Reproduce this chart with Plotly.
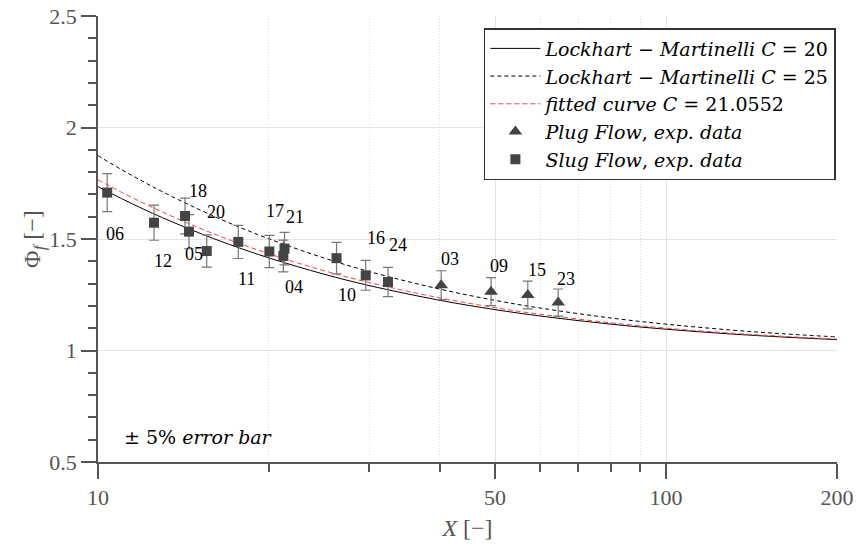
import math
import plotly.graph_objects as go

# ---- data ----
curve_X = [10, 11, 12, 13, 15, 17, 20, 25, 30, 40, 50, 60, 80, 100, 130, 160, 200]
lm_c20 = [1.7349, 1.6812, 1.6351, 1.5951, 1.5290, 1.4765, 1.4151, 1.3422, 1.2914, 1.2250,
          1.1834, 1.1548, 1.1181, 1.0955, 1.0742, 1.0607, 1.0488]
lm_c25 = [1.8735, 1.8114, 1.7579, 1.7114, 1.6344, 1.5729, 1.5008, 1.4148, 1.3544, 1.2750,
          1.2249, 1.1904, 1.1457, 1.1181, 1.0919, 1.0753, 1.0607]
fit_c = [1.7651, 1.7095, 1.6618, 1.6204, 1.5518, 1.4973, 1.4336, 1.3579, 1.3050, 1.2357,
         1.1923, 1.1624, 1.1240, 1.1003, 1.0780, 1.0638, 1.0513]

slug_X = [10.38, 12.55, 14.23, 14.46, 15.54, 17.66, 20.03, 21.2, 21.3, 26.3, 29.6, 32.4]
slug_phi = [1.708, 1.573, 1.603, 1.533, 1.446, 1.487, 1.444, 1.424, 1.457, 1.414, 1.337, 1.307]
slug_labels = ["06", "12", "18", "20", "05", "11", "17", "21", "04", "10", "16", "24"]
slug_label_dx = [8, 9, 13, 27, -13, 8, 6, 12, 9, 10, 10, 10]
slug_label_dy = [41, 38, -25, -20, 3, 37, -40, -39, 38, 37, -37, -37]

plug_X = [40.2, 49.2, 57.1, 64.6]
plug_phi = [1.293, 1.264, 1.249, 1.215]
plug_labels = ["03", "09", "15", "23"]
plug_label_dx = [9, 8, 9, 8]
plug_label_dy = [-26, -26, -25, -24]

x_major = [10, 50, 100, 200]
x_minor = [20, 30, 40, 60, 70, 80, 90]
y_major = [0.5, 1, 1.5, 2, 2.5]
y_minor = [0.6, 0.7, 0.8, 0.9, 1.1, 1.2, 1.3, 1.4, 1.6, 1.7, 1.8, 1.9, 2.1, 2.2, 2.3, 2.4]

error_pct = 5

SERIF = "Liberation Serif"
SERIF_WIDE = "DejaVu Serif"
GRAY = "#555555"

fig = go.Figure()
fig.add_trace(go.Scatter(x=curve_X, y=lm_c20, mode="lines", line=dict(color="black", width=1, shape="spline"),
                         name="<i>Lockhart − Martinelli C</i> = 20"))
fig.add_trace(go.Scatter(x=curve_X, y=lm_c25, mode="lines",
                         line=dict(color="black", width=1, dash="4px,3px", shape="spline"),
                         name="<i>Lockhart − Martinelli C</i> = 25"))
fig.add_trace(go.Scatter(x=curve_X, y=fit_c, mode="lines",
                         line=dict(color="#ff4040", width=1, dash="5px,3px", shape="spline"),
                         name="<i>fitted curve C</i> = 21.0552"))
fig.add_trace(go.Scatter(x=plug_X, y=plug_phi, mode="markers",
                         marker=dict(symbol="triangle-up", size=12, color="#444444"),
                         error_y=dict(type="percent", value=error_pct, color="#777777", thickness=1.2, width=5),
                         name="<i>Plug Flow</i>, <i>exp. data</i>"))
fig.add_trace(go.Scatter(x=slug_X, y=slug_phi, mode="markers",
                         marker=dict(symbol="square", size=10, color="#444444"),
                         error_y=dict(type="percent", value=error_pct, color="#777777", thickness=1.2, width=5),
                         name="<i>Slug Flow</i>, <i>exp. data</i>"))

annotations = []
for xs, ys, labs, dxs, dys in [(slug_X, slug_phi, slug_labels, slug_label_dx, slug_label_dy),
                               (plug_X, plug_phi, plug_labels, plug_label_dx, plug_label_dy)]:
    for x, y, t, dx, dy in zip(xs, ys, labs, dxs, dys):
        annotations.append(dict(x=math.log10(x), y=y, xref="x", yref="y", text=t, showarrow=False,
                                xshift=dx, yshift=-dy, font=dict(family=SERIF, size=18, color="black")))
annotations.append(dict(x=math.log10(11.0), y=0.61, xref="x", yref="y", text="± 5% <i>error bar</i>",
                        showarrow=False, xanchor="left", yanchor="middle",
                        font=dict(family=SERIF_WIDE, size=19, color="black")))

fig.update_layout(
    width=856, height=547,
    margin=dict(l=98, r=19, t=16, b=85, autoexpand=False),
    paper_bgcolor="white", plot_bgcolor="white",
    font=dict(family=SERIF, color=GRAY),
    annotations=annotations,
    legend=dict(x=0.9985, y=0.973, xanchor="right", yanchor="top",
                bgcolor="white", bordercolor="#333333", borderwidth=1.5,
                font=dict(family=SERIF_WIDE, size=19, color="black"),
                tracegroupgap=0, itemwidth=50),
    xaxis=dict(type="log", range=[1, math.log10(200)], automargin=False,
               tickmode="array", tickvals=x_major, ticktext=[str(v) for v in x_major],
               ticks="outside", ticklen=15, tickwidth=1.5, tickcolor=GRAY,
               showline=True, linecolor=GRAY, linewidth=1.5,
               showgrid=True, gridcolor="#e3e3e3", gridwidth=1,
               tickfont=dict(family=SERIF, size=22, color=GRAY),
               minor=dict(tickmode="array", tickvals=x_minor,
                          ticks="outside", ticklen=8, tickwidth=1.5, tickcolor=GRAY,
                          showgrid=True, gridcolor="#dcdcdc", griddash="1px,2px", gridwidth=1),
               title=dict(text="<i>X</i> [−]", font=dict(family=SERIF, size=24, color=GRAY), standoff=10),
               zeroline=False),
    yaxis=dict(range=[0.5, 2.5], automargin=False,
               tickmode="array", tickvals=y_major, ticktext=[str(v) for v in y_major],
               ticks="outside", ticklen=15, tickwidth=1.5, tickcolor=GRAY,
               showline=True, linecolor=GRAY, linewidth=1.5,
               showgrid=True, gridcolor="#e3e3e3", gridwidth=1,
               tickfont=dict(family=SERIF, size=22, color=GRAY),
               minor=dict(tickmode="array", tickvals=y_minor, ticks="outside", ticklen=8, tickwidth=1.5,
                          tickcolor=GRAY, showgrid=False),
               title=dict(text="Φ<sub><i>f</i></sub> [−]", font=dict(family=SERIF, size=24, color=GRAY), standoff=0),
               zeroline=False),
)

fig.write_html("out.html")
